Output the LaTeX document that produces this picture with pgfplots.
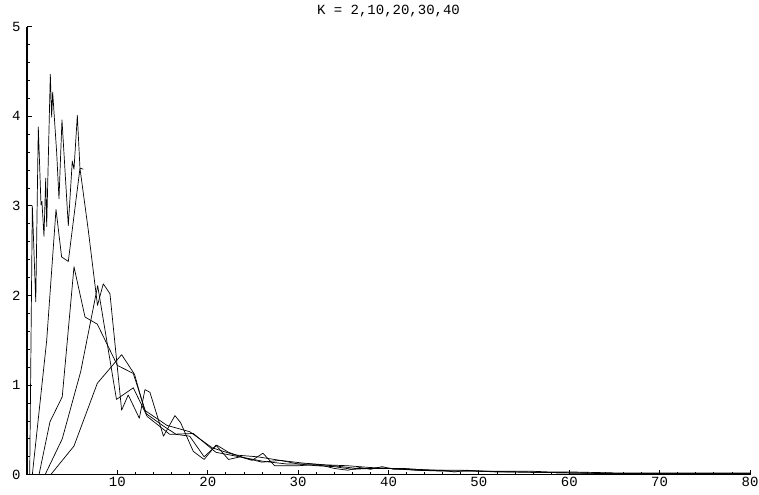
\documentclass[border=0pt]{standalone}
\usepackage{fontspec}
\setmainfont{Liberation Mono}
\usepackage{pgfplots}
\pgfplotsset{compat=1.18}

\begin{document}
\begin{tikzpicture}
\begin{axis}[
    name=ax,
    scale only axis,
    width=723pt, height=448pt,
    xmin=0, xmax=80, ymin=0, ymax=5,
    axis lines*=left,
    axis line style={line width=1.3pt},
    xtick={10,20,...,80}, ytick={0,1,...,5},
    minor x tick num=4, minor y tick num=4,
    tick align=inside,
    major tick length=5pt, minor tick length=3pt,
    tick style={black, line width=0.8pt},
    /pgf/number format/assume math mode=true,
    ticklabel style={font=\fontsize{14}{16}\selectfont},
    xticklabel style={yshift=1pt},
    yticklabel style={xshift=-3pt},
    title={K = 2,10,20,30,40},
    title style={font=\fontsize{14}{16}\selectfont, at={(0.5,1)}, anchor=south, yshift=0pt},
    cycle list={{black}},
    every axis plot/.append style={black, line width=0.7pt, no marks, line join=round},
    clip=false,
]

% K = 40
\addplot coordinates {
(0.3,0) (0.59,3.0) (0.97,1.93) (1.25,3.88) (1.55,3.01) (1.65,3.05) (1.88,2.66)
(2.07,3.31) (2.18,2.77) (2.58,4.47) (2.73,3.99) (2.84,4.27) (3.28,3.60) (3.54,3.08)
(3.87,3.96) (4.57,2.78) (5.01,3.50) (5.2,3.41) (5.57,4.01) (5.86,3.42) (6.23,3.41)
};

% K = 30
\addplot coordinates {
(0.59,0) (2.18,1.50) (3.21,2.96) (3.83,2.43) (4.57,2.38) (5.86,3.42) (6.78,2.73)
(7.8,1.89) (8.44,2.13) (9.18,2.02) (10.47,0.72) (11.2,0.89) (12.43,0.63) (13.05,0.95)
(13.6,0.92) (15.1,0.43) (16.37,0.66) (17.0,0.58) (18.4,0.26) (19.6,0.17) (20.9,0.33)
(22.3,0.17) (23.6,0.20) (24.9,0.16) (26.1,0.24) (27.4,0.10) (28.7,0.10) (30,0.10)
(31.5,0.11) (32.8,0.10) (34,0.07) (35.5,0.05) (36.8,0.08) (38,0.06) (39.3,0.09)
(40.6,0.06) (42,0.06) (43.3,0.05) (44.6,0.05) (46,0.05) (47.3,0.03) (48.6,0.05)
(50,0.04) (52,0.03) (55,0.03) (60,0.02) (65,0.01) (70,0.01) (75,0.01) (80,0.01)
};

% K = 20
\addplot coordinates {
(1.33,0) (2.54,0.59) (3.9,0.87) (5.2,2.32) (6.42,1.76) (7.78,1.68) (10.0,1.22)
(11.76,1.13) (13.2,0.68) (15.0,0.55) (16.5,0.45) (18.0,0.43) (19.6,0.20) (21.0,0.33)
(22.3,0.25) (24.0,0.19) (26.0,0.14) (28.0,0.16) (30.0,0.12) (32.0,0.10) (34.0,0.09)
(36.0,0.06) (38.0,0.07) (40.0,0.07) (43.0,0.05) (46.0,0.04) (50.0,0.04) (55.0,0.03)
(60.0,0.02) (70.0,0.01) (80.0,0.01)
};

% K = 10
\addplot coordinates {
(2.0,0) (3.9,0.40) (5.94,1.15) (7.82,2.11) (9.9,0.84) (11.76,0.97) (13.3,0.65)
(15.8,0.45) (18.4,0.46) (20.9,0.25) (23.5,0.20) (26.1,0.15) (28.7,0.12) (31.3,0.12)
(33.9,0.10) (36.5,0.07) (39.1,0.07) (41.7,0.07) (44.3,0.05) (46.9,0.04) (49.5,0.04)
(55,0.03) (60,0.02) (70,0.01) (80,0.01)
};

% K = 2
\addplot coordinates {
(2.62,0) (5.2,0.32) (7.78,1.02) (10.47,1.34) (11.9,1.12) (13.0,0.72) (15.5,0.55)
(18.0,0.48) (20.5,0.30) (23.0,0.22) (25.5,0.20) (28.0,0.16) (30.5,0.13) (33.0,0.11)
(35.5,0.10) (38.0,0.08) (40.5,0.07) (43.0,0.06) (45.5,0.05) (48.0,0.05) (50.5,0.04)
(53.0,0.04) (55.5,0.04) (58.0,0.03) (60.5,0.03) (65.0,0.02) (70.0,0.02) (75.0,0.02)
(80.0,0.02)
};

\coordinate (bl) at (rel axis cs:0,0);
\coordinate (tr) at (rel axis cs:1,1);
\end{axis}
\pgfresetboundingbox
\useasboundingbox ([shift={(-27pt,-20pt)}]bl) rectangle ([shift={(9pt,26.7pt)}]tr);
\end{tikzpicture}
\end{document}
